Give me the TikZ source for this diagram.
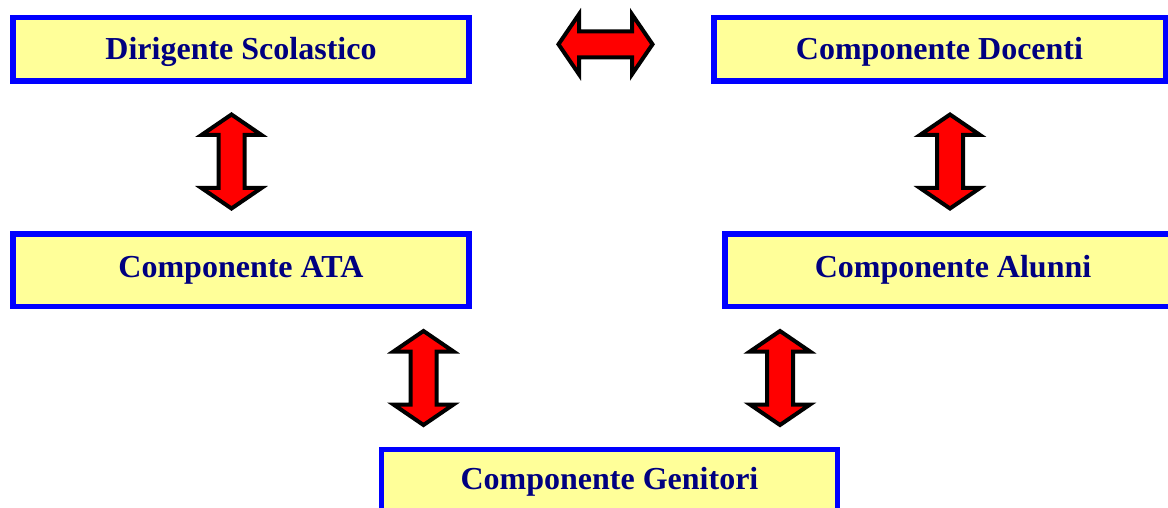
\documentclass[tikz,border=0pt]{standalone}
\usepackage{fontspec}
\setmainfont{Liberation Serif}
\definecolor{boxfill}{HTML}{FFFF99}
\definecolor{boxline}{HTML}{0000FF}
\definecolor{boxtext}{HTML}{000080}
\definecolor{arrred}{HTML}{FF0000}
\tikzset{
  compbox/.style={draw=boxline, line width=5.5pt, fill=boxfill, rectangle,
    inner sep=0pt, text=boxtext, font=\fontsize{32}{38}\selectfont\bfseries,
    minimum width=456pt},
  toprow/.style={text height=21pt, text depth=0pt},
  blockarrow/.style={draw=black, fill=arrred, line width=4pt, line join=miter},
  dblarrow/.pic={
    \path[blockarrow] (0,47) -- (-30,26.5) -- (-13,26.5) -- (-13,-26.5)
      -- (-30,-26.5) -- (0,-47) -- (30,-26.5) -- (13,-26.5) -- (13,26.5)
      -- (30,26.5) -- cycle;
  }
}
\begin{document}
\begin{tikzpicture}[x=1pt,y=-1pt]
\useasboundingbox (0,0) rectangle (1168,508);
\clip (0,0) rectangle (1168,508);
\node[compbox, toprow, minimum height=63.5pt] (dir) at (241,49.5) {Dirigente Scolastico};
\node[compbox, toprow, minimum width=451.5pt, minimum height=63.5pt] (doc) at (939.5,49.5) {Componente Docenti};
\node[compbox, minimum height=72.5pt] (ata) at (241,270) {Componente ATA};
\node[compbox, minimum height=72.5pt] (alu) at (953,270) {Componente Alunni};
\node[compbox, minimum height=65pt] (gen) at (609.5,482) {Componente Genitori};
% block arrows between the boxes
\coordinate (dirdoc) at (605.5,44.3);
\coordinate (dirata) at (231.5,161.5);
\coordinate (docalu) at (950,161.5);
\coordinate (atagen) at (423.5,378);
\coordinate (alugen) at (780,378);
\pic[rotate=90] at (dirdoc) {dblarrow};
\pic at (dirata) {dblarrow};
\pic at (docalu) {dblarrow};
\pic at (atagen) {dblarrow};
\pic at (alugen) {dblarrow};
\end{tikzpicture}
\end{document}
